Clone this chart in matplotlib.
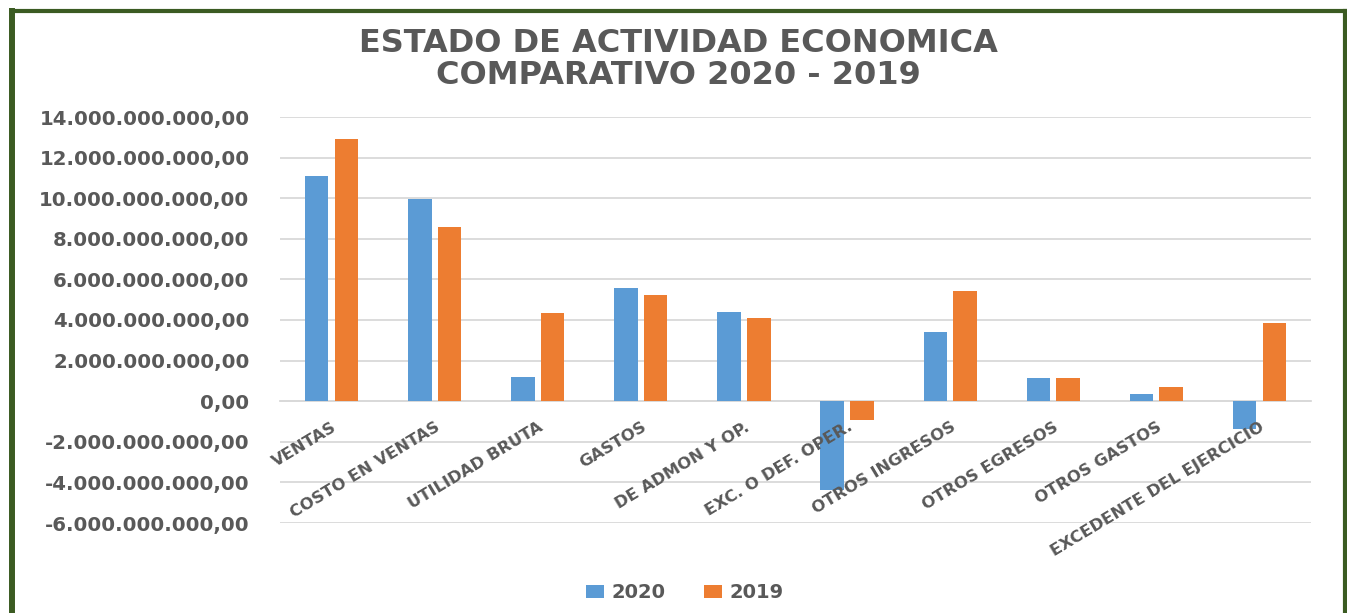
import matplotlib
matplotlib.use("Agg")
import matplotlib.pyplot as plt
import numpy as np
from matplotlib.lines import Line2D
from matplotlib.ticker import FuncFormatter

categories = ["VENTAS", "COSTO EN VENTAS", "UTILIDAD BRUTA", "GASTOS", "DE ADMON Y OP.",
              "EXC. O DEF. OPER.", "OTROS INGRESOS", "OTROS EGRESOS", "OTROS GASTOS",
              "EXCEDENTE DEL EJERCICIO"]
values_2020 = [11.10e9, 9.94e9, 1.21e9, 5.59e9, 4.39e9, -4.39e9, 3.40e9, 1.16e9, 0.35e9, -1.35e9]
values_2019 = [12.92e9, 8.60e9, 4.34e9, 5.24e9, 4.10e9, -0.91e9, 5.44e9, 1.13e9, 0.70e9, 3.86e9]
series_names = ["2020", "2019"]
y_ticks = [-6e9, -4e9, -2e9, 0, 2e9, 4e9, 6e9, 8e9, 10e9, 12e9, 14e9]
title_lines = ["ESTADO DE ACTIVIDAD ECONOMICA", "COMPARATIVO 2020 - 2019"]

BLUE = "#5B9BD5"
ORANGE = "#ED7D31"
TXT = "#595959"
GRID = "#D9D9D9"
BORDER = "#3B5B22"

W, H = 1347, 613
fig = plt.figure(figsize=(W / 100, H / 100), dpi=100)
fig.patch.set_facecolor("white")

ax = fig.add_axes([280 / W, 1 - 523 / H, (1311 - 280) / W, (523 - 117) / H])
x = np.arange(len(categories))
bw = 0.228
off = 0.144
ax.bar(x - off, values_2020, width=bw, color=BLUE, label=series_names[0], zorder=3)
ax.bar(x + off, values_2019, width=bw, color=ORANGE, label=series_names[1], zorder=3)

ax.set_xlim(-0.5, len(categories) - 0.5)
ax.set_ylim(y_ticks[0], y_ticks[-1])
ax.set_yticks(y_ticks)


def fmt(v, pos):
    s = f"{v:,.2f}"
    return s.replace(",", "X").replace(".", ",").replace("X", ".")


ax.yaxis.set_major_formatter(FuncFormatter(fmt))
ax.grid(axis="y", color=GRID, linewidth=1.3, zorder=0)
for s in ["top", "right", "left"]:
    ax.spines[s].set_visible(False)
ax.spines["bottom"].set_position(("data", 0))
ax.spines["bottom"].set_color(GRID)
ax.spines["bottom"].set_linewidth(1.3)
ax.spines["bottom"].set_zorder(1)

ax.tick_params(axis="y", length=0, pad=22, labelsize=14.2, labelcolor=TXT)
ax.tick_params(axis="x", length=0, pad=13, labelsize=11.8, labelcolor=TXT)
for lbl in ax.get_yticklabels():
    lbl.set_fontweight("bold")

ax.set_xticks(x)
ax.set_xticklabels(categories, rotation=31, ha="right", va="top",
                   rotation_mode="anchor", fontweight="bold", color=TXT)
ax.xaxis.set_zorder(5)

fig.text(678 / W, 1 - 44 / H, title_lines[0], ha="center", va="center",
         fontsize=23, fontweight="bold", color=TXT)
fig.text(678 / W, 1 - 76 / H, title_lines[1], ha="center", va="center",
         fontsize=23, fontweight="bold", color=TXT)

leg = fig.legend(loc="center", bbox_to_anchor=(685 / W, 1 - 593 / H), ncol=2,
                 frameon=False, handlelength=0.9, handleheight=0.6,
                 columnspacing=2.0, handletextpad=0.4,
                 prop={"size": 14, "weight": "bold"})
for t in leg.get_texts():
    t.set_color(TXT)

# green frame
fig.add_artist(Line2D([12 / W, 12 / W], [0, 1 - 11 / H], color=BORDER, linewidth=4.3,
                      transform=fig.transFigure, solid_capstyle="projecting"))
fig.add_artist(Line2D([12 / W, 1345 / W], [1 - 11 / H, 1 - 11 / H], color=BORDER,
                      linewidth=3.0, transform=fig.transFigure, solid_capstyle="projecting"))
fig.add_artist(Line2D([1345 / W, 1345 / W], [0, 1 - 11 / H], color=BORDER, linewidth=3.0,
                      transform=fig.transFigure, solid_capstyle="projecting"))

fig.savefig("out.png", dpi=100, facecolor="white")
